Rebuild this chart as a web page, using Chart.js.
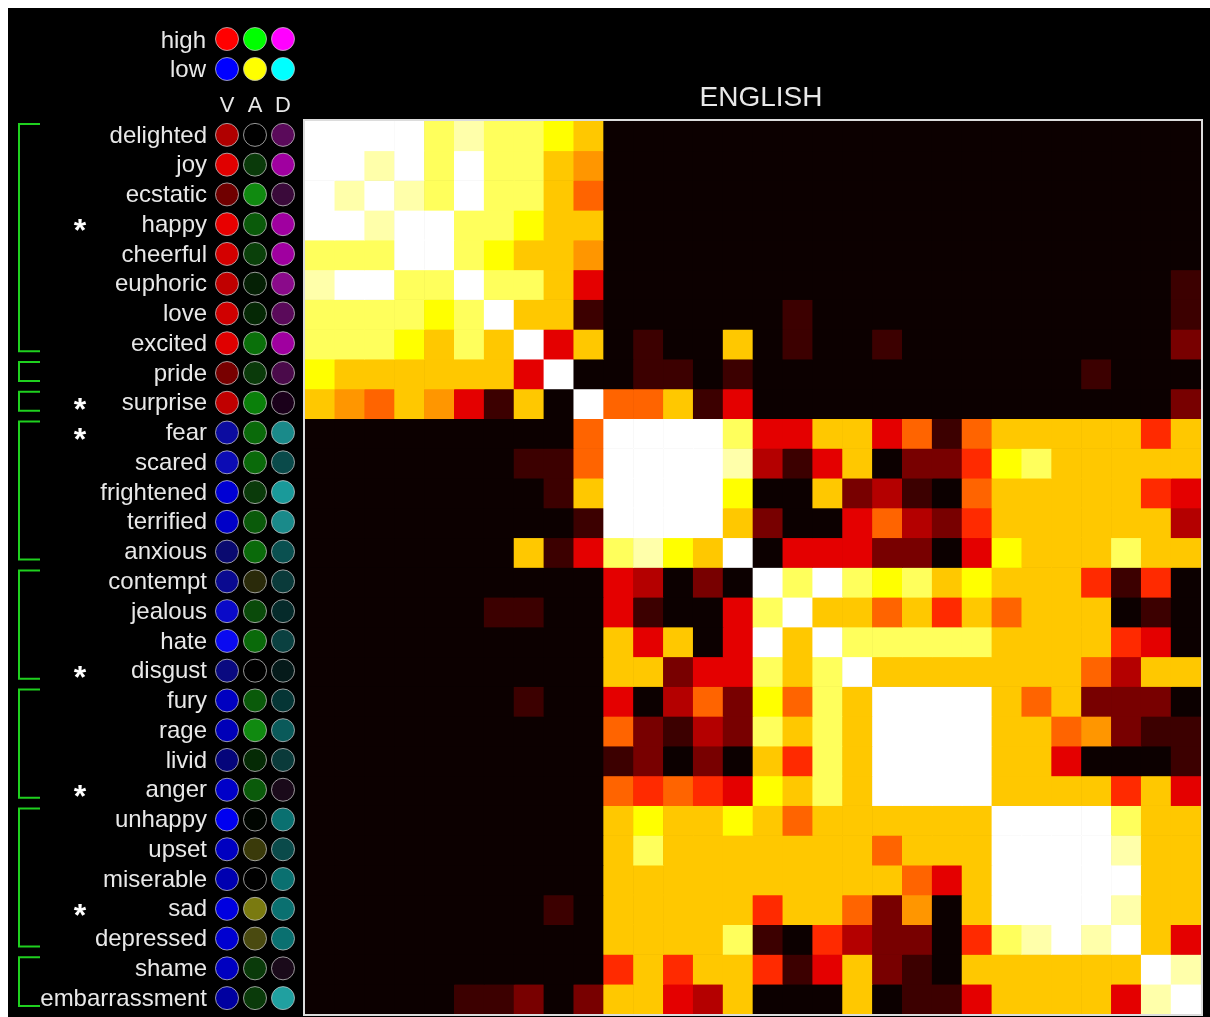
<!DOCTYPE html>
<html>
<head>
<meta charset="utf-8">
<title>ENGLISH – emotion concept similarity</title>
<script src="https://cdn.jsdelivr.net/npm/chart.js@4.4.1/dist/chart.umd.min.js"></script>
<style>
  html, body { margin: 0; padding: 0; background: #ffffff; overflow: hidden; }
  canvas { display: block; }
</style>
</head>
<body>
<canvas id="chart" width="1210" height="1017"></canvas>
<script>
// Emotion concepts, in cluster order (rows and columns of the matrix)
const emotions = [
  'delighted', 'joy', 'ecstatic', 'happy', 'cheerful', 'euphoric', 'love', 'excited',
  'pride', 'surprise',
  'fear', 'scared', 'frightened', 'terrified', 'anxious',
  'contempt', 'jealous', 'hate', 'disgust',
  'fury', 'rage', 'livid', 'anger',
  'unhappy', 'upset', 'miserable', 'sad', 'depressed',
  'shame', 'embarrassment'
];

// Concepts marked with an asterisk
const starred = ['happy', 'surprise', 'fear', 'disgust', 'anger', 'sad'];

// Cluster ranges (first row, last row) shown by the green brackets
const clusterStart = [0, 8, 9, 10, 15, 19, 23, 28];
const clusterEnd   = [7, 8, 9, 14, 18, 22, 27, 29];

// Valence / Arousal / Dominance swatches per concept
const valence = [
  '#b00000', '#e00000', '#700000', '#e80000', '#d40000', '#c00000', '#d00000', '#e00000',
  '#780000', '#c00000',
  '#0c0ca0', '#0c0cb4', '#0000d4', '#0000c8', '#0a0a70',
  '#0a0a90', '#0a0ac8', '#0a0af0', '#0a0a80',
  '#0000c0', '#0000b8', '#05057a', '#0000c8',
  '#0000f0', '#0000c0', '#0000b0', '#0000e0', '#0000d0',
  '#0000c0', '#0000a0'
];
const arousal = [
  '#000000', '#0a3a0a', '#108a10', '#0a5a0a', '#0a400a', '#052005', '#052805', '#0a700a',
  '#0a3a0a', '#0a800a',
  '#0a6a0a', '#0a6a0a', '#0a3a0a', '#0a5a0a', '#0a6a0a',
  '#2a2a0a', '#0a4a0a', '#0a6a0a', '#000000',
  '#0a5a0a', '#108a10', '#052a05', '#0a5a0a',
  '#000500', '#3a3a0a', '#000000', '#7a7a10', '#4a4a10',
  '#0a3a0a', '#0a3a0a'
];
const dominance = [
  '#5a0a5a', '#a000a0', '#3a0a3a', '#a000a0', '#a000a0', '#8a0a8a', '#5a0a5a', '#a000a0',
  '#4a0a4a', '#1a001a',
  '#1a8a8a', '#0a4a4a', '#1a9a9a', '#1a8a8a', '#0a5050',
  '#0a3a3a', '#052a2a', '#0a4040', '#051a1a',
  '#053535', '#0a5a5a', '#0a3a3a', '#1a0a1a',
  '#0a7070', '#0a4a4a', '#0a7070', '#0a7070', '#0a7070',
  '#1a0a1a', '#20a0a0'
];

// Legend swatches: high and low ends of V, A, D
const legendHigh = ['#ff0000', '#00ff00', '#ff00ff'];
const legendLow  = ['#0000ff', '#ffff00', '#00ffff'];
const legendHeads = ['V', 'A', 'D'];

// Heat colour scale, level 0 (dissimilar) .. 12 (identical)
const levelColors = [
  '#0c0000', '#3c0000', '#780000', '#b40000', '#e40000', '#ff2a00', '#ff6400',
  '#ff9600', '#ffc800', '#ffff00', '#ffff5c', '#ffffaa', '#ffffff'
];

// Similarity levels, one row per concept
const similarity = [
  [12,12,12,12,10,11,10,10,9,8, 0,0,0,0,0,0,0,0,0,0, 0,0,0,0,0,0,0,0,0,0],
  [12,12,11,12,10,12,10,10,8,7, 0,0,0,0,0,0,0,0,0,0, 0,0,0,0,0,0,0,0,0,0],
  [12,11,12,11,10,12,10,10,8,6, 0,0,0,0,0,0,0,0,0,0, 0,0,0,0,0,0,0,0,0,0],
  [12,12,11,12,12,10,10,9,8,8, 0,0,0,0,0,0,0,0,0,0, 0,0,0,0,0,0,0,0,0,0],
  [10,10,10,12,12,10,9,8,8,7, 0,0,0,0,0,0,0,0,0,0, 0,0,0,0,0,0,0,0,0,0],
  [11,12,12,10,10,12,10,10,8,4, 0,0,0,0,0,0,0,0,0,0, 0,0,0,0,0,0,0,0,0,1],
  [10,10,10,10,9,10,12,8,8,1, 0,0,0,0,0,0,1,0,0,0, 0,0,0,0,0,0,0,0,0,1],
  [10,10,10,9,8,10,8,12,4,8, 0,1,0,0,8,0,1,0,0,1, 0,0,0,0,0,0,0,0,0,2],
  [9,8,8,8,8,8,8,4,12,0, 0,1,1,0,1,0,0,0,0,0, 0,0,0,0,0,0,1,0,0,0],
  [8,7,6,8,7,4,1,8,0,12, 6,6,8,1,4,0,0,0,0,0, 0,0,0,0,0,0,0,0,0,2],
  [0,0,0,0,0,0,0,0,0,6, 12,12,12,12,10,4,4,8,8,4, 6,1,6,8,8,8,8,8,5,8],
  [0,0,0,0,0,0,0,1,1,6, 12,12,12,12,11,3,1,4,8,0, 2,2,5,9,10,8,8,8,8,8],
  [0,0,0,0,0,0,0,0,1,8, 12,12,12,12,9,0,0,8,2,3, 1,0,6,8,8,8,8,8,5,4],
  [0,0,0,0,0,0,0,0,0,1, 12,12,12,12,8,2,0,0,4,6, 3,2,5,8,8,8,8,8,8,3],
  [0,0,0,0,0,0,0,8,1,4, 10,11,9,8,12,0,4,4,4,2, 2,0,4,9,8,8,8,10,8,8],
  [0,0,0,0,0,0,0,0,0,0, 4,3,0,2,0,12,10,12,10,9, 10,8,9,8,8,8,5,1,5,0],
  [0,0,0,0,0,0,1,1,0,0, 4,1,0,0,4,10,12,8,8,6, 8,5,8,6,8,8,8,0,1,0],
  [0,0,0,0,0,0,0,0,0,0, 8,4,8,0,4,12,8,12,10,10, 10,10,10,8,8,8,8,5,4,0],
  [0,0,0,0,0,0,0,0,0,0, 8,8,2,4,4,10,8,10,12,8, 8,8,8,8,8,8,6,3,8,8],
  [0,0,0,0,0,0,0,1,0,0, 4,0,3,6,2,9,6,10,8,12, 12,12,12,8,6,8,2,2,2,0],
  [0,0,0,0,0,0,0,0,0,0, 6,2,1,3,2,10,8,10,8,12, 12,12,12,8,8,6,7,2,1,1],
  [0,0,0,0,0,0,0,0,0,0, 1,2,0,2,0,8,5,10,8,12, 12,12,12,8,8,4,0,0,0,1],
  [0,0,0,0,0,0,0,0,0,0, 6,5,6,5,4,9,8,10,8,12, 12,12,12,8,8,8,8,5,8,4],
  [0,0,0,0,0,0,0,0,0,0, 8,9,8,8,9,8,6,8,8,8, 8,8,8,12,12,12,12,10,8,8],
  [0,0,0,0,0,0,0,0,0,0, 8,10,8,8,8,8,8,8,8,6, 8,8,8,12,12,12,12,11,8,8],
  [0,0,0,0,0,0,0,0,0,0, 8,8,8,8,8,8,8,8,8,8, 6,4,8,12,12,12,12,12,8,8],
  [0,0,0,0,0,0,0,0,1,0, 8,8,8,8,8,5,8,8,6,2, 7,0,8,12,12,12,12,11,8,8],
  [0,0,0,0,0,0,0,0,0,0, 8,8,8,8,10,1,0,5,3,2, 2,0,5,10,11,12,11,12,8,4],
  [0,0,0,0,0,0,0,0,0,0, 5,8,5,8,8,5,1,4,8,2, 1,0,8,8,8,8,8,8,12,11],
  [0,0,0,0,0,1,1,2,0,2, 8,8,4,3,8,0,0,0,8,0, 1,1,4,8,8,8,8,4,11,12]
];

const FONT = '"Liberation Sans", Arial, Helvetica, sans-serif';
const TEXT = '#e8e8e8';

// One floating-bar dataset per matrix row: each cell spans [row, row + 1]
const datasets = similarity.map((row, r) => ({
  label: emotions[r],
  data: row.map(() => [r, r + 1]),
  backgroundColor: row.map(v => levelColors[v]),
  borderWidth: 0,
  borderSkipped: false,
  barPercentage: 1,
  categoryPercentage: 1,
  grouped: false
}));

// Page background, frame, labels, swatches and brackets
const decorations = {
  id: 'decorations',
  beforeDraw(chart) {
    const ctx = chart.ctx;
    ctx.save();
    ctx.fillStyle = '#ffffff';
    ctx.fillRect(0, 0, chart.width, chart.height);
    ctx.fillStyle = '#000000';
    ctx.fillRect(8, 8, chart.width - 8, chart.height - 8);
    ctx.restore();
  },
  afterDatasetsDraw(chart) {
    const ctx = chart.ctx;
    const a = chart.chartArea;
    ctx.save();
    ctx.strokeStyle = '#dcdcdc';
    ctx.lineWidth = 2;
    ctx.strokeRect(a.left - 1, a.top - 1, a.right - a.left + 2, a.bottom - a.top + 2);
    ctx.restore();
  },
  afterDraw(chart) {
    const ctx = chart.ctx;
    const a = chart.chartArea;
    const yS = chart.scales.y;
    const rowY = r => yS.getPixelForValue(r + 0.5);
    const swatchX = [227, 255, 283];
    const radius = 11.5;

    const swatch = (x, y, color) => {
      ctx.beginPath();
      ctx.arc(x, y, radius, 0, Math.PI * 2);
      ctx.fillStyle = color;
      ctx.fill();
      ctx.lineWidth = 1;
      ctx.strokeStyle = 'rgba(200,200,200,0.75)';
      ctx.stroke();
    };

    ctx.save();

    // Title over the matrix
    ctx.fillStyle = TEXT;
    ctx.font = '28px ' + FONT;
    ctx.textAlign = 'center';
    ctx.textBaseline = 'middle';
    ctx.fillText('ENGLISH', (a.left + a.right) / 2 + 8, 98);

    // Legend: high / low ends
    ctx.font = '24px ' + FONT;
    ctx.textAlign = 'right';
    ctx.fillText('high', 206, 41);
    ctx.fillText('low', 206, 70);
    legendHigh.forEach((c, i) => swatch(swatchX[i], 39, c));
    legendLow.forEach((c, i) => swatch(swatchX[i], 69, c));

    // Column heads
    ctx.fillStyle = TEXT;
    ctx.font = '22px ' + FONT;
    ctx.textAlign = 'center';
    legendHeads.forEach((h, i) => ctx.fillText(h, swatchX[i], 106));

    // Row labels and V/A/D swatches
    emotions.forEach((name, r) => {
      const y = rowY(r);
      ctx.fillStyle = TEXT;
      ctx.font = '24px ' + FONT;
      ctx.textAlign = 'right';
      ctx.textBaseline = 'middle';
      ctx.fillText(name, 207, y);
      swatch(swatchX[0], y - 1, valence[r]);
      swatch(swatchX[1], y - 1, arousal[r]);
      swatch(swatchX[2], y - 1, dominance[r]);
      if (starred.includes(name)) {
        ctx.fillStyle = '#ffffff';
        ctx.font = 'bold 32px ' + FONT;
        ctx.textAlign = 'center';
        ctx.textBaseline = 'alphabetic';
        ctx.fillText('*', 80, y + 16);
      }
    });

    // Cluster brackets
    ctx.strokeStyle = '#1fd01f';
    ctx.lineWidth = 2;
    clusterStart.forEach((s, i) => {
      const top = rowY(s) - 12;
      const bottom = rowY(clusterEnd[i]) + 7;
      ctx.beginPath();
      ctx.moveTo(40, top);
      ctx.lineTo(19, top);
      ctx.lineTo(19, bottom);
      ctx.lineTo(40, bottom);
      ctx.stroke();
    });

    ctx.restore();
  }
};

new Chart(document.getElementById('chart'), {
  type: 'bar',
  data: { labels: emotions, datasets },
  options: {
    responsive: false,
    animation: false,
    events: [],
    layout: { padding: { left: 305, top: 121, right: 9, bottom: 3 } },
    plugins: {
      legend: { display: false },
      tooltip: { enabled: false },
      title: { display: false }
    },
    scales: {
      x: { type: 'category', offset: true, display: false, grid: { display: false } },
      y: { type: 'linear', min: 0, max: 30, reverse: true, display: false, grid: { display: false } }
    }
  },
  plugins: [decorations]
});
</script>
</body>
</html>
